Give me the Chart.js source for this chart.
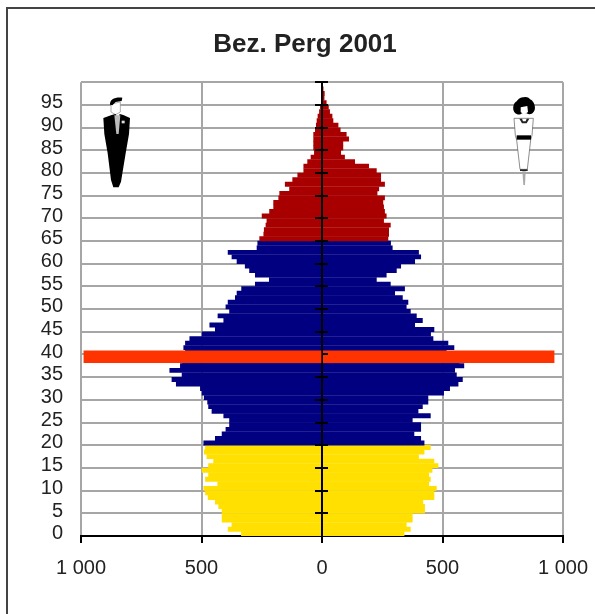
<!DOCTYPE html>
<html>
<head>
<meta charset="utf-8">
<style>
  html, body { margin: 0; padding: 0; background: #fff; }
  #wrap { position: relative; width: 595px; height: 614px; overflow: hidden; }
  #frame { position: absolute; left: 6px; top: 7px; right: -4px; bottom: -4px; border: 2px solid #444; }
  canvas { position: absolute; left: 0; top: 0; }
  svg { position: absolute; }
</style>
</head>
<body>
<div id="wrap">
  <div id="frame"></div>
  <canvas id="pyramid" width="595" height="614"></canvas>
  <!-- Mann -->
  <svg style="left:95px;top:90px" width="45" height="100" viewBox="0 0 135 300">
    <path d="M48 42 L48 66 L62 74 L76 66 L76 36 Z" fill="#fff" stroke="#888" stroke-width="2"/>
    <path d="M45 44 C44 27 60 21 82 23 L80 33 L62 36 L52 46 Z" fill="#000"/>
    <path d="M25 84 L50 75 L62 72 L68 90 L74 72 L85 75 L105 84 L102 132 L92 190 L78 275 L71 292 L55 292 L48 270 L38 190 L28 132 Z" fill="#000"/>
    <path d="M58 76 L76 76 L71 132 L64 132 Z" fill="#bbb"/>
    <rect x="80" y="92" width="9" height="8" fill="#ddd"/>
  </svg>
  <!-- Frau -->
  <svg style="left:500px;top:90px" width="45" height="100" viewBox="0 0 135 300">
    <path d="M42 85 L100 85 L96 136 L92 150 L82 238 L60 238 L50 150 L46 136 Z" fill="#fff" stroke="#555" stroke-width="2"/>
    <path d="M72 22 C60 20 54 28 50 34 C38 40 36 62 46 70 C54 76 62 74 66 70 L80 70 C88 76 100 72 104 60 C108 46 98 30 90 28 C86 22 78 20 72 22 Z" fill="#000"/>
    <path d="M62 52 L82 48 L84 66 L72 74 L62 66 Z" fill="#fff"/>
    <path d="M58 86 L88 86 L80 100 L66 100 Z" fill="#222"/>
    <path d="M66 86 L80 86 L77 94 L69 94 Z" fill="#fff"/>
    <rect x="50" y="136" width="43" height="13" fill="#000"/>
    <rect x="60" y="238" width="23" height="5" fill="#222"/>
    <path d="M67 244 L77 244 L75 285 L70 285 Z" fill="#aaa"/>
  </svg>
</div>

<script src="https://cdn.jsdelivr.net/npm/chart.js@4/dist/chart.umd.min.js"></script>
<script>
const ages = Array.from({ length: 100 }, (_, i) => i);

const male = [
  336, 391, 375, 416, 416, 416, 430, 444, 474, 485,
  492, 434, 485, 472, 499, 472, 451, 479, 490, 485,
  492, 444, 416, 400, 385, 385, 409, 458, 472, 476,
  490, 499, 506, 606, 624, 582, 633, 589, 580, 575,
  568, 575, 568, 550, 499, 444, 467, 409, 433, 385,
  400, 391, 361, 354, 335, 278, 220, 278, 302, 320,
  354, 375, 391, 271, 268, 260, 243, 241, 234, 230,
  250, 219, 202, 202, 181, 177, 136, 154, 123, 102,
  77, 77, 61, 47, 33, 36, 36, 36, 36, 29,
  25, 22, 18, 12, 8, 1, 0, 0, 0, 0
];

const female = [
  342, 368, 351, 376, 376, 427, 427, 420, 466, 466,
  476, 444, 451, 444, 458, 483, 466, 402, 425, 451,
  425, 411, 383, 411, 411, 376, 451, 400, 418, 441,
  441, 506, 531, 566, 584, 559, 552, 590, 570, 550,
  517, 549, 524, 462, 452, 466, 386, 418, 393, 368,
  351, 358, 335, 303, 344, 285, 227, 268, 310, 328,
  386, 411, 402, 293, 286, 275, 278, 278, 285, 257,
  268, 261, 257, 254, 261, 230, 237, 261, 245, 245,
  227, 195, 137, 95, 79, 88, 88, 112, 102, 77,
  68, 47, 43, 33, 28, 19, 10, 11, 6, 3
];

// roter Balken (Jahrgang im Alter 39)
const markerAge = 39;
const markerMale = 988;
const markerFemale = 963;

const xTicks = [-1000, -500, 0, 500, 1000];

const YELLOW = '#ffe000', NAVY = '#000080', DARKRED = '#a80000', ORANGE = '#ff3300';
const GRID = '#a6a6a6';
const textFont = { family: '"Liberation Sans", Arial, sans-serif', size: 20 };

// Farbe nach Altersgruppe
function ageColor(ctx) {
  const age = ages[ctx.dataIndex];
  if (age < 20) return YELLOW;
  if (age < 65) return NAVY;
  return DARKRED;
}

function onlyMarker(value) {
  return ages.map(a => (a === markerAge ? value : null));
}

// senkrechte Achse bei 0 mit Teilstrichen, liegt unter dem roten Balken
const centerAxis = {
  id: 'centerAxis',
  beforeDatasetDraw(chart, args) {
    if (args.index !== 0) return;
    const { ctx, chartArea, scales } = chart;
    const x0 = scales.x.getPixelForValue(0);
    ctx.save();
    ctx.strokeStyle = '#000';
    ctx.lineWidth = 2;
    ctx.beginPath();
    ctx.moveTo(x0, chartArea.top);
    ctx.lineTo(x0, chartArea.bottom);
    for (let a = 5; a <= ages.length; a += 5) {
      const y = Math.round(scales.y.getPixelForValue(a - 0.5));
      ctx.moveTo(x0 - 7, y);
      ctx.lineTo(x0 + 6, y);
    }
    ctx.stroke();
    ctx.restore();
  }
};

new Chart(document.getElementById('pyramid'), {
  type: 'bar',
  plugins: [centerAxis],
  data: {
    labels: ages,
    datasets: [
      { data: onlyMarker(-markerMale), backgroundColor: ORANGE, barThickness: 12 },
      { data: onlyMarker(markerFemale), backgroundColor: ORANGE, barThickness: 12 },
      { label: 'Frauen', data: female, backgroundColor: ageColor },
      { label: 'Männer', data: male.map(v => -v), backgroundColor: ageColor }
    ]
  },
  options: {
    indexAxis: 'y',
    responsive: false,
    animation: false,
    grouped: false,
    categoryPercentage: 1,
    barPercentage: 1.08,
    layout: { padding: { left: 38, right: 23, top: 0, bottom: 0 } },
    plugins: {
      legend: { display: false },
      tooltip: { enabled: false },
      title: {
        display: true,
        text: 'Bez. Perg 2001',
        color: '#222',
        font: { family: textFont.family, size: 26, weight: 'bold', lineHeight: 1.2 },
        padding: { top: 29, bottom: 22 }
      }
    },
    scales: {
      x: {
        min: -1000,
        max: 1000,
        afterBuildTicks(scale) { scale.ticks = xTicks.map(value => ({ value })); },
        afterFit(scale) {
          scale.height = 78;
          scale.paddingLeft = 0;
          scale.paddingRight = 32;
        },
        border: { color: '#000', width: 2 },
        grid: { color: GRID, lineWidth: 2, tickColor: '#000', tickLength: 7 },
        ticks: {
          color: '#222',
          font: textFont,
          padding: 13,
          maxRotation: 0,
          callback: v => (Math.abs(v) === 1000 ? '1 000' : String(Math.abs(v)))
        }
      },
      y: {
        reverse: true,
        afterFit(scale) { scale.width = 43; },
        border: { display: false },
        grid: {
          offset: true,
          drawTicks: false,
          lineWidth: 2,
          color: ctx => (ctx.index === undefined || ctx.index % 5 === 0 ? GRID : 'transparent')
        },
        ticks: {
          autoSkip: false,
          color: '#222',
          font: textFont,
          padding: 18,
          callback(v, i) { return i % 5 === 0 ? String(ages[i]) : ''; }
        }
      }
    }
  }
});
</script>
</body>
</html>
